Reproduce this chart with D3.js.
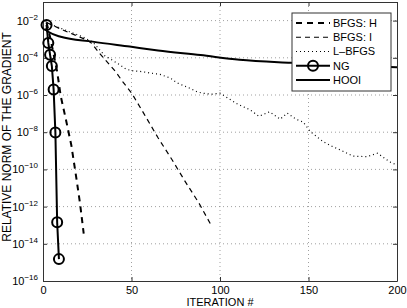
<!DOCTYPE html>
<html>
<head>
<meta charset="utf-8">
<script src="https://cdn.jsdelivr.net/npm/d3@7"></script>
<style>
body{margin:0;background:#fff;}
svg{display:block;font-family:"Liberation Sans",Arial,Helvetica,sans-serif;}
</style>
</head>
<body>
<svg id="plot"></svg>
<script>
const width = 407;
const height = 308;
const margin = {top: 2, right: 10, bottom: 27, left: 43};

// values (iteration, relative gradient norm)
const bfgsHIter = [2, 4, 6, 8, 10, 13, 16, 19, 21, 23];
const bfgsHVal = [7.9e-3, 1.3e-3, 1.6e-4, 1.8e-5, 8.9e-7, 4.5e-8, 2.0e-9, 2.7e-11, 1.3e-12, 3.5e-14];

const bfgsIIter = [2, 10, 20, 25, 27.5, 32, 41, 45, 50, 57, 65, 73, 80, 88, 95];
const bfgsIVal = [7.9e-3, 3.5e-3, 1.4e-3, 8.9e-4, 6.0e-4, 1.7e-4, 1.8e-5, 5.2e-6, 1.3e-6, 1.0e-7, 5.0e-9, 3.2e-10, 2.5e-11, 1.6e-12, 1.0e-13];

const lbfgsIter = [2, 7, 15, 22, 28, 31, 35, 39, 43.5, 47, 51, 56, 61, 66, 72, 75.5, 83, 87, 90, 95, 100, 105, 110, 117, 122, 128, 134, 138, 143, 147, 151, 158, 163, 168, 175, 183, 189, 196, 200];
const lbfgsVal = [7.9e-3, 5.0e-3, 2.5e-3, 1.4e-3, 7.1e-4, 3.5e-4, 1.26e-4, 7.6e-5, 4.1e-5, 2.4e-5, 2.0e-5, 1.8e-5, 1.5e-5, 1.3e-5, 8.1e-6, 4.6e-6, 2.3e-6, 1.5e-6, 1.26e-6, 1.1e-6, 1.26e-6, 6.3e-7, 3.2e-7, 1.6e-7, 7.1e-8, 1.26e-7, 5.0e-8, 1.07e-7, 5.0e-8, 3.5e-8, 1.1e-8, 3.2e-9, 1.8e-9, 1.1e-9, 5.2e-10, 4.8e-10, 7.4e-10, 2.5e-10, 1.7e-10];

const ngIter = [2, 3, 4, 5, 6, 7, 8, 9];
const ngVal = [5.8e-3, 6.3e-4, 1.45e-4, 3.6e-5, 2.0e-6, 9.5e-9, 1.45e-13, 1.5e-15];

const hooiIter = [1, 3, 10, 28, 49, 65, 89, 111, 140, 170, 200];
const hooiVal = [3.5e-3, 2.5e-3, 1.35e-3, 7.4e-4, 4.0e-4, 2.5e-4, 1.4e-4, 7.9e-5, 5.4e-5, 4.0e-5, 3.1e-5];

const xTicks = [0, 50, 100, 150, 200];
const yExp = [-2, -4, -6, -8, -10, -12, -14, -16];
const legendNames = ['BFGS: H', 'BFGS: I', 'L\u2013BFGS', 'NG', 'HOOI'];

function main(){
  const w = width - margin.left - margin.right;
  const h = height - margin.top - margin.bottom;

  const svg = d3.select('svg#plot')
  .attr('width', width)
  .attr('height', height);

  const g = svg.append('g')
  .attr('transform', `translate(${margin.left},${margin.top})`);

  const sx = d3.scaleLinear().domain([0, 200]).range([0, w]);
  const sy = d3.scaleLog().domain([1e-16, 1e-1]).range([h, 0]);
  const yTicks = yExp.map(e => Math.pow(10, e));

  // dotted grid
  g.selectAll('.gx')
  .data(xTicks.slice(1, -1))
  .enter().append('line')
  .attr('x1', d => sx(d)).attr('x2', d => sx(d))
  .attr('y1', 0).attr('y2', h)
  .attr('stroke', '#888').attr('stroke-width', 0.8)
  .attr('stroke-dasharray', '1,3');
  g.selectAll('.gy')
  .data(yTicks.slice(0, -1))
  .enter().append('line')
  .attr('x1', 0).attr('x2', w)
  .attr('y1', d => sy(d)).attr('y2', d => sy(d))
  .attr('stroke', '#888').attr('stroke-width', 0.8)
  .attr('stroke-dasharray', '1,3');

  // axes, ticks pointing in
  const gx = g.append('g')
  .attr('transform', `translate(0,${h})`)
  .call(d3.axisBottom(sx).tickValues(xTicks).tickSizeInner(-4).tickSizeOuter(0).tickPadding(5));
  g.append('g')
  .call(d3.axisTop(sx).tickValues(xTicks).tickSizeInner(-4).tickSizeOuter(0).tickFormat(''));
  const gy = g.append('g')
  .call(d3.axisLeft(sy).tickValues(yTicks).tickSizeInner(-4).tickSizeOuter(0).tickPadding(5).tickFormat(''));
  g.append('g')
  .attr('transform', `translate(${w},0)`)
  .call(d3.axisRight(sy).tickValues(yTicks).tickSizeInner(-4).tickSizeOuter(0).tickFormat(''));

  g.selectAll('.domain').attr('stroke', '#333');
  g.selectAll('.tick line').attr('stroke', '#333');
  gx.selectAll('.tick text').attr('font-size', 11).attr('fill', '#000').attr('font-family', null);

  gy.selectAll('.tick text')
  .attr('font-size', 11).attr('fill', '#000').attr('font-family', null)
  .each(function(d){
    const t = d3.select(this);
    t.append('tspan').text('10');
    t.append('tspan').attr('dy', -5).attr('font-size', 8)
    .text('\u2212' + Math.round(-Math.log10(d)));
  });

  // series
  const line = d3.line()
  .x(d => sx(d[0]))
  .y(d => sy(d[1]));

  const zip = (a, b) => a.map((v, i) => [v, b[i]]);

  const series = [
    {data: zip(hooiIter, hooiVal), width: 2, dash: null, curve: d3.curveMonotoneX},
    {data: zip(lbfgsIter, lbfgsVal), width: 1.2, dash: '1,3', curve: d3.curveLinear},
    {data: zip(bfgsIIter, bfgsIVal), width: 1.2, dash: '5,4', curve: d3.curveLinear},
    {data: zip(bfgsHIter, bfgsHVal), width: 2, dash: '6,5', curve: d3.curveLinear},
    {data: zip(ngIter, ngVal), width: 2, dash: null, curve: d3.curveLinear}
  ];

  g.selectAll('.series')
  .data(series)
  .enter().append('path')
  .attr('class', 'series')
  .attr('d', s => line.curve(s.curve)(s.data))
  .attr('fill', 'none')
  .attr('stroke', '#000')
  .attr('stroke-width', s => s.width)
  .attr('stroke-dasharray', s => s.dash);

  g.selectAll('.ngMarker')
  .data(zip(ngIter, ngVal))
  .enter().append('circle')
  .attr('class', 'ngMarker')
  .attr('cx', d => sx(d[0]))
  .attr('cy', d => sy(d[1]))
  .attr('r', 5)
  .attr('fill', 'none')
  .attr('stroke', '#000')
  .attr('stroke-width', 2);

  // axis titles
  svg.append('text')
  .attr('x', margin.left + w / 2)
  .attr('y', 306)
  .attr('text-anchor', 'middle')
  .attr('font-size', 11)
  .text('ITERATION #');

  svg.append('text')
  .attr('transform', `translate(11,137) rotate(-90)`)
  .attr('text-anchor', 'middle')
  .attr('font-size', 12)
  .text('RELATIVE NORM OF THE GRADIENT');

  // legend
  const lg = svg.append('g').attr('transform', 'translate(292,13)');
  lg.append('rect')
  .attr('width', 99).attr('height', 78)
  .attr('fill', '#fff').attr('stroke', '#333').attr('stroke-width', 1);

  const legendStyle = [
    {width: 2, dash: '6,5'},
    {width: 1.2, dash: '5,4'},
    {width: 1.2, dash: '1,3'},
    {width: 2, dash: null, marker: true},
    {width: 2, dash: null}
  ];
  const ly = d3.scalePoint().domain(legendNames).range([10, 67]);

  const item = lg.selectAll('.item')
  .data(legendNames)
  .enter().append('g')
  .attr('class', 'item')
  .attr('transform', d => `translate(0,${ly(d)})`);

  item.append('line')
  .attr('x1', 4).attr('x2', 38)
  .attr('stroke', '#000')
  .attr('stroke-width', (d, i) => legendStyle[i].width)
  .attr('stroke-dasharray', (d, i) => legendStyle[i].dash);

  item.filter((d, i) => legendStyle[i].marker)
  .append('circle')
  .attr('cx', 21).attr('r', 5)
  .attr('fill', 'none').attr('stroke', '#000').attr('stroke-width', 2);

  item.append('text')
  .attr('x', 41).attr('dy', '0.35em')
  .attr('font-size', 11)
  .text(d => d);
}

document.addEventListener('DOMContentLoaded', main);
</script>
</body>
</html>
